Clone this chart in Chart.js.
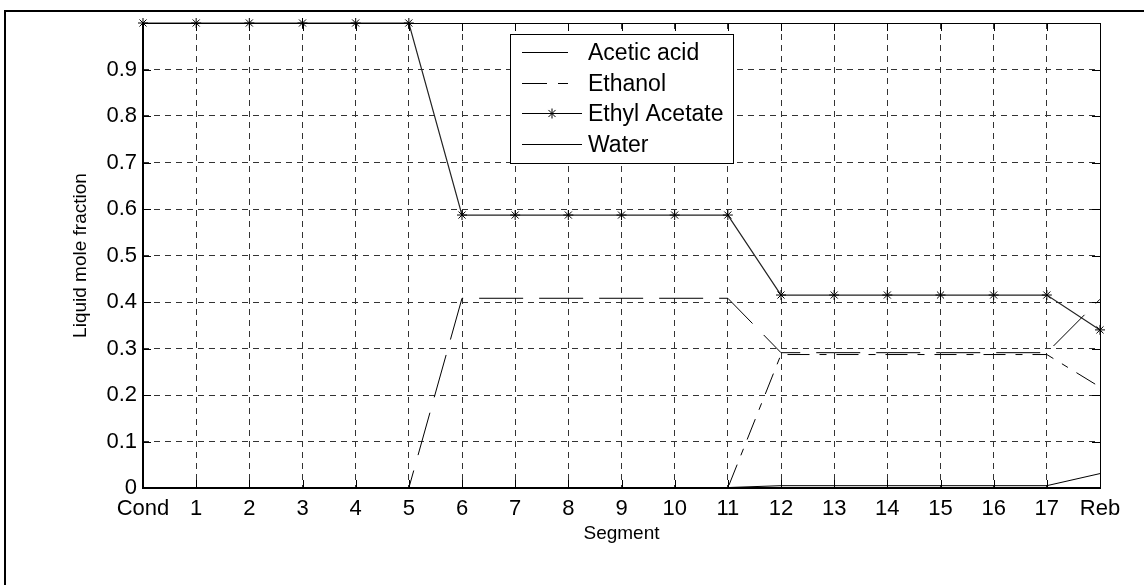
<!DOCTYPE html>
<html>
<head>
<meta charset="utf-8">
<script src="https://cdn.jsdelivr.net/npm/chart.js@4.4.1/dist/chart.umd.min.js"></script>
<style>
  body { margin: 0; background: #fff; }
  #wrap { position: relative; width: 1144px; height: 585px; }
</style>
</head>
<body>
<div id="wrap"><canvas id="chart"></canvas></div>
<script>
/* === data === */
const segments = ['Cond','1','2','3','4','5','6','7','8','9','10','11','12','13','14','15','16','17','Reb'];

const aceticAcid   = [0.001,0.001,0.001,0.001,0.001,0.001,0.001,0.001,0.001,0.001,0.001,0.001,0.005,0.005,0.005,0.005,0.005,0.005,0.031];
const ethanol      = [0,0,0,0,0,0,0.408,0.408,0.408,0.408,0.408,0.408,0.291,0.291,0.291,0.291,0.291,0.291,0.406];
const ethylAcetate = [1.0,1.0,1.0,1.0,1.0,1.0,0.587,0.587,0.587,0.587,0.587,0.587,0.415,0.415,0.415,0.415,0.415,0.415,0.34];
const water        = [0,0,0,0,0,0,0,0,0,0,0,0,0.287,0.287,0.287,0.287,0.287,0.287,0.217];

const yTicks = [0,0.1,0.2,0.3,0.4,0.5,0.6,0.7,0.8,0.9];

const FONT = 'Liberation Sans, Arial, Helvetica, sans-serif';

/* === helpers === */
function drawStar(ctx, x, y, r){
  ctx.beginPath();
  ctx.moveTo(x - r, y); ctx.lineTo(x + r, y);
  ctx.moveTo(x, y - r); ctx.lineTo(x, y + r);
  const d = r * 0.7071;
  ctx.moveTo(x - d, y - d); ctx.lineTo(x + d, y + d);
  ctx.moveTo(x - d, y + d); ctx.lineTo(x + d, y - d);
  ctx.stroke();
}

/* frame, inner ticks and the outer box */
const framePlugin = {
  id: 'frame',
  afterDatasetsDraw(chart){
    const {ctx, chartArea: a} = chart;
    const xs = chart.scales.x, ys = chart.scales.y;
    ctx.save();
    ctx.strokeStyle = '#000';
    ctx.setLineDash([]);

    // inward ticks
    ctx.lineWidth = 1;
    ctx.beginPath();
    ys.ticks.forEach(t => {
      const y = Math.round(ys.getPixelForValue(t.value)) + 0.5;
      ctx.moveTo(a.left, y); ctx.lineTo(a.left + 8, y);
      ctx.moveTo(a.right, y); ctx.lineTo(a.right - 8, y);
    });
    segments.forEach((s, i) => {
      const x = Math.round(xs.getPixelForTick(i)) + 0.5;
      ctx.moveTo(x, a.bottom); ctx.lineTo(x, a.bottom - 8);
      ctx.moveTo(x, a.top); ctx.lineTo(x, a.top + 8);
    });
    ctx.stroke();

    // plot box
    ctx.beginPath();
    ctx.moveTo(Math.round(a.left), Math.round(a.top) + 0.5);
    ctx.lineTo(Math.round(a.right) + 0.5, Math.round(a.top) + 0.5);
    ctx.lineTo(Math.round(a.right) + 0.5, Math.round(a.bottom));
    ctx.stroke();
    ctx.lineWidth = 2;
    ctx.beginPath();
    ctx.moveTo(Math.round(a.left), Math.round(a.top));
    ctx.lineTo(Math.round(a.left), Math.round(a.bottom));
    ctx.lineTo(Math.round(a.right) + 1, Math.round(a.bottom));
    ctx.stroke();

    // outer figure box (runs off the right / bottom edge)
    ctx.lineWidth = 2;
    ctx.strokeRect(5, 11, 1160, 600);
    ctx.restore();
  }
};

/* legend drawn inside the plot like the original */
const legendPlugin = {
  id: 'insideLegend',
  afterDraw(chart, args, o){
    const ctx = chart.ctx;
    ctx.save();
    ctx.fillStyle = '#fff';
    ctx.fillRect(o.x, o.y, o.w, o.h);
    ctx.strokeStyle = '#000';
    ctx.lineWidth = 1;
    ctx.setLineDash([]);
    ctx.strokeRect(o.x + 0.5, o.y + 0.5, o.w, o.h);

    ctx.font = o.fontSize + 'px ' + FONT;
    ctx.textBaseline = 'middle';
    ctx.textAlign = 'left';
    chart.data.datasets.forEach((ds, i) => {
      const y = Math.round(o.firstRow + i * o.rowGap) + 0.5;
      ctx.strokeStyle = '#000';
      ctx.lineWidth = 1;
      ctx.setLineDash(o.dashes[i]);
      ctx.beginPath();
      ctx.moveTo(o.lineStart, y);
      ctx.lineTo(o.lineEnds[i], y);
      ctx.stroke();
      ctx.setLineDash([]);
      if (ds.pointStyle === 'star') drawStar(ctx, (o.lineStart + o.lineEnds[i]) / 2, y, 5);
      ctx.fillStyle = '#000';
      ctx.fillText(ds.label, o.textX, y + 1);
    });
    ctx.restore();
  }
};

const ctx = document.getElementById('chart').getContext('2d');

const chart = new Chart(ctx, {
  type: 'line',
  data: {
    labels: segments,
    datasets: [
      {
        label: 'Acetic acid',
        data: aceticAcid,
        borderColor: '#000',
        borderWidth: 1,
        pointRadius: 0,
        tension: 0
      },
      {
        label: 'Ethanol',
        data: ethanol,
        borderColor: '#000',
        borderWidth: 1,
        borderDash: [44, 16],
        pointRadius: 0,
        tension: 0
      },
      {
        label: 'Ethyl Acetate',
        data: ethylAcetate,
        borderColor: '#222',
        borderWidth: 1.2,
        pointStyle: 'star',
        pointRadius: 5,
        pointBorderColor: '#000',
        pointBorderWidth: 1,
        pointBackgroundColor: '#000',
        tension: 0,
        clip: false
      },
      {
        label: 'Water',
        data: water,
        borderColor: '#000',
        borderWidth: 1,
        borderDash: [22, 10, 7, 10],
        pointRadius: 0,
        tension: 0
      }
    ]
  },
  options: {
    responsive: true,
    maintainAspectRatio: false,
    animation: false,
    devicePixelRatio: 1,
    layout: { padding: { left: 69, top: 23, right: 44, bottom: 0 } },
    plugins: {
      legend: { display: false },
      tooltip: { enabled: false },
      insideLegend: {
        x: 510, y: 34, w: 223, h: 129,
        firstRow: 52, rowGap: 30.7,
        lineStart: 522, lineEnds: [568, 568, 582, 582],
        textX: 588, fontSize: 23,
        dashes: [[], [25, 11], [], []]
      }
    },
    scales: {
      x: {
        type: 'category',
        offset: false,
        grid: { color: '#333', lineWidth: 1, drawTicks: false },
        border: { display: false, dash: [6, 5] },
        ticks: {
          color: '#000',
          font: { family: FONT, size: 22 },
          padding: 8,
          autoSkip: false,
          maxRotation: 0
        },
        title: {
          display: true,
          text: 'Segment',
          color: '#000',
          font: { family: FONT, size: 19 },
          padding: { top: 0, bottom: 40 }
        },
        afterFit(scale){ scale.height = 97; }
      },
      y: {
        min: 0,
        max: 1,
        grid: { color: '#333', lineWidth: 1, drawTicks: false },
        border: { display: false, dash: [6, 5] },
        afterBuildTicks(scale){ scale.ticks = yTicks.map(v => ({ value: v })); },
        ticks: {
          color: '#000',
          font: { family: FONT, size: 22 },
          padding: 6,
          callback: v => (v === 0 ? '0' : v.toFixed(1))
        },
        title: {
          display: true,
          text: 'Liquid mole fraction',
          color: '#000',
          font: { family: FONT, size: 19 },
          padding: { top: 0, bottom: 0 }
        },
        afterFit(scale){ scale.width = 74; }
      }
    }
  },
  plugins: [framePlugin, legendPlugin]
});
</script>
</body>
</html>
